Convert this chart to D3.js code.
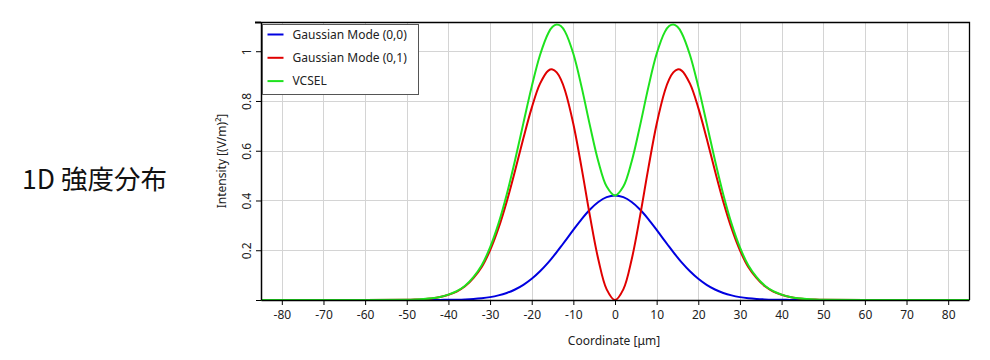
<!DOCTYPE html>
<html>
<head>
<meta charset="utf-8">
<script src="https://cdn.jsdelivr.net/npm/d3@7"></script>
<style>
  html, body { margin: 0; padding: 0; background: #fff; }
  svg { display: block; font-family: "Noto Sans", "Open Sans", sans-serif; }
</style>
</head>
<body>
<svg id="chart" width="990" height="360"></svg>
<script>
// ---- data ----
const coordinates = [-85, -60, -50, -48, -46, -44, -42, -40, -38, -36, -34, -32, -30, -28, -26, -24, -22, -20, -18, -16, -15, -14, -13, -12, -10, -8, -6, -4, -2,
  0, 2, 4, 6, 8, 10, 12, 13, 14, 15, 16, 18, 20, 22, 24, 26, 28, 30, 32, 34, 36, 38, 40, 42, 44, 46, 48, 50, 60, 85];

const mode00 = [0, 0, 0, 0, 0.0001, 0.0002, 0.0004, 0.0007, 0.0013, 0.0024, 0.0042, 0.0071, 0.0116, 0.0185, 0.0284, 0.0423, 0.0611, 0.0853, 0.1155, 0.1514, 0.1714, 0.1924, 0.2142, 0.2366, 0.282, 0.3255, 0.3639, 0.394, 0.4133,
  0.42, 0.4133, 0.394, 0.3639, 0.3255, 0.282, 0.2366, 0.2142, 0.1924, 0.1714, 0.1514, 0.1155, 0.0853, 0.0611, 0.0423, 0.0284, 0.0185, 0.0116, 0.0071, 0.0042, 0.0024, 0.0013, 0.0007, 0.0004, 0.0002, 0.0001, 0, 0, 0, 0];

const mode01 = [0, 0, 0.0008, 0.0018, 0.0035, 0.0065, 0.012, 0.021, 0.034, 0.055, 0.088, 0.1327, 0.1995, 0.2873, 0.3954, 0.5193, 0.650, 0.7724, 0.8696, 0.9222, 0.927, 0.9151, 0.887, 0.8422, 0.7076, 0.5292, 0.3361, 0.1629, 0.0429,
  0, 0.0429, 0.1629, 0.3361, 0.5292, 0.7076, 0.8422, 0.887, 0.9151, 0.927, 0.9222, 0.8696, 0.7724, 0.650, 0.5193, 0.3954, 0.2873, 0.1995, 0.1327, 0.088, 0.055, 0.034, 0.021, 0.012, 0.0065, 0.0035, 0.0018, 0.0008, 0, 0];

const vcsel = [0, 0, 0.0008, 0.0018, 0.0036, 0.0067, 0.0124, 0.0217, 0.0353, 0.0574, 0.0922, 0.1398, 0.2111, 0.3058, 0.4238, 0.5616, 0.7111, 0.8577, 0.9851, 1.0736, 1.0984, 1.1075, 1.1012, 1.0788, 0.9896, 0.8547, 0.70, 0.5569, 0.4562,
  0.42, 0.4562, 0.5569, 0.70, 0.8547, 0.9896, 1.0788, 1.1012, 1.1075, 1.0984, 1.0736, 0.9851, 0.8577, 0.7111, 0.5616, 0.4238, 0.3058, 0.2111, 0.1398, 0.0922, 0.0574, 0.0353, 0.0217, 0.0124, 0.0067, 0.0036, 0.0018, 0.0008, 0, 0];

const seriesNames = ["Gaussian Mode (0,0)", "Gaussian Mode (0,1)", "VCSEL"];
const seriesColors = ["#0000e0", "#e00000", "#1ee21e"];
const xTickValues = [-80, -70, -60, -50, -40, -30, -20, -10, 0, 10, 20, 30, 40, 50, 60, 70, 80];
const yTickValues = [0, 0.2, 0.4, 0.6, 0.8, 1];
const xDomain = [-85, 85];
const yDomain = [0, 1.1175];
const titleText = "1D 強度分布";
const xTitle = "Coordinate [μm]";
const yTitle = "Intensity [(V/m)²]";

// ---- layout ----
const svg = d3.select("#chart");
const pL = 261, pR = 969, pT = 22, pB = 300;
const x = d3.scaleLinear().domain(xDomain).range([pL, pR]);
const y = d3.scaleLinear().domain(yDomain).range([pB, pT]);

// page title
svg.append("text")
  .attr("x", 22).attr("y", 189)
  .attr("font-family", "'Noto Sans CJK JP', 'Noto Sans', sans-serif")
  .attr("font-size", 26.5)
  .attr("fill", "#111")
  .text(titleText);

// gridlines
const grid = svg.append("g").attr("stroke", "#d4d4d4").attr("stroke-width", 1);
grid.selectAll("line.v").data(xTickValues).join("line").attr("class", "v")
  .attr("x1", d => Math.round(x(d)) + 0.5).attr("x2", d => Math.round(x(d)) + 0.5)
  .attr("y1", pT).attr("y2", pB);
grid.selectAll("line.h").data(yTickValues.filter(d => d > 0)).join("line").attr("class", "h")
  .attr("x1", pL).attr("x2", pR)
  .attr("y1", d => Math.round(y(d)) + 0.5).attr("y2", d => Math.round(y(d)) + 0.5);

// frame top / right
svg.append("path")
  .attr("d", `M${pL},${pT + 0.5}H${pR + 0.5}V${pB}`)
  .attr("fill", "none").attr("stroke", "#000").attr("stroke-width", 1.3);

// series
const data = coordinates.map((c, i) => ({ c, v: [mode00[i], mode01[i], vcsel[i]] }));
const line = k => d3.line().x(d => x(d.c)).y(d => y(Math.max(0, d.v[k]))).curve(d3.curveCatmullRom.alpha(0.5));
[0, 1, 2].forEach(k => {
  svg.append("path")
    .datum(data)
    .attr("fill", "none")
    .attr("stroke", seriesColors[k])
    .attr("stroke-width", 2)
    .attr("stroke-linejoin", "round")
    .attr("d", line(k));
});

// x axis
const xAxis = svg.append("g")
  .attr("transform", `translate(0,${pB})`)
  .call(d3.axisBottom(x).tickValues(xTickValues).tickSize(5).tickSizeOuter(0).tickPadding(5)
    .tickFormat(d => String(d)));
xAxis.select(".domain").attr("stroke", "#000").attr("stroke-width", 1.5);
xAxis.selectAll("text").attr("font-size", 12).attr("fill", "#222").attr("font-family", "'Noto Sans', sans-serif");

// y axis
const yAxis = svg.append("g")
  .attr("transform", `translate(${pL},0)`)
  .call(d3.axisLeft(y).tickValues(yTickValues).tickSize(5).tickSizeOuter(0)
    .tickFormat(d => d === 0 ? "" : String(d)));
yAxis.select(".domain").attr("stroke", "#000").attr("stroke-width", 1.5);
yAxis.selectAll(".tick text")
  .attr("font-size", 12).attr("fill", "#222").attr("font-family", "'Noto Sans', sans-serif")
  .attr("text-anchor", "middle")
  .attr("dy", null)
  .attr("x", 0).attr("y", -10)
  .attr("transform", "rotate(-90)");
// top end tick on y axis
svg.append("line").attr("x1", pL - 6).attr("x2", pL).attr("y1", pT + 0.5).attr("y2", pT + 0.5)
  .attr("stroke", "#000").attr("stroke-width", 2);

// axis titles
svg.append("text")
  .attr("x", 614).attr("y", 345)
  .attr("text-anchor", "middle")
  .attr("font-size", 12).attr("fill", "#222")
  .text(xTitle);
svg.append("text")
  .attr("transform", `translate(226,${(pT + pB) / 2}) rotate(-90)`)
  .attr("text-anchor", "middle")
  .attr("font-size", 12).attr("fill", "#222")
  .text(yTitle);

// legend
const lg = svg.append("g").attr("transform", "translate(262.5,24.5)");
lg.append("rect").attr("width", 156).attr("height", 70)
  .attr("fill", "#fff").attr("stroke", "#555").attr("stroke-width", 1);
seriesNames.forEach((name, i) => {
  const yy = 10 + i * 23.3;
  lg.append("line").attr("x1", 5).attr("x2", 21).attr("y1", yy).attr("y2", yy)
    .attr("stroke", seriesColors[i]).attr("stroke-width", 2);
  lg.append("text").attr("x", 30).attr("y", yy + 4)
    .attr("font-size", 12).attr("fill", "#222")
    .text(name);
});
</script>
</body>
</html>
